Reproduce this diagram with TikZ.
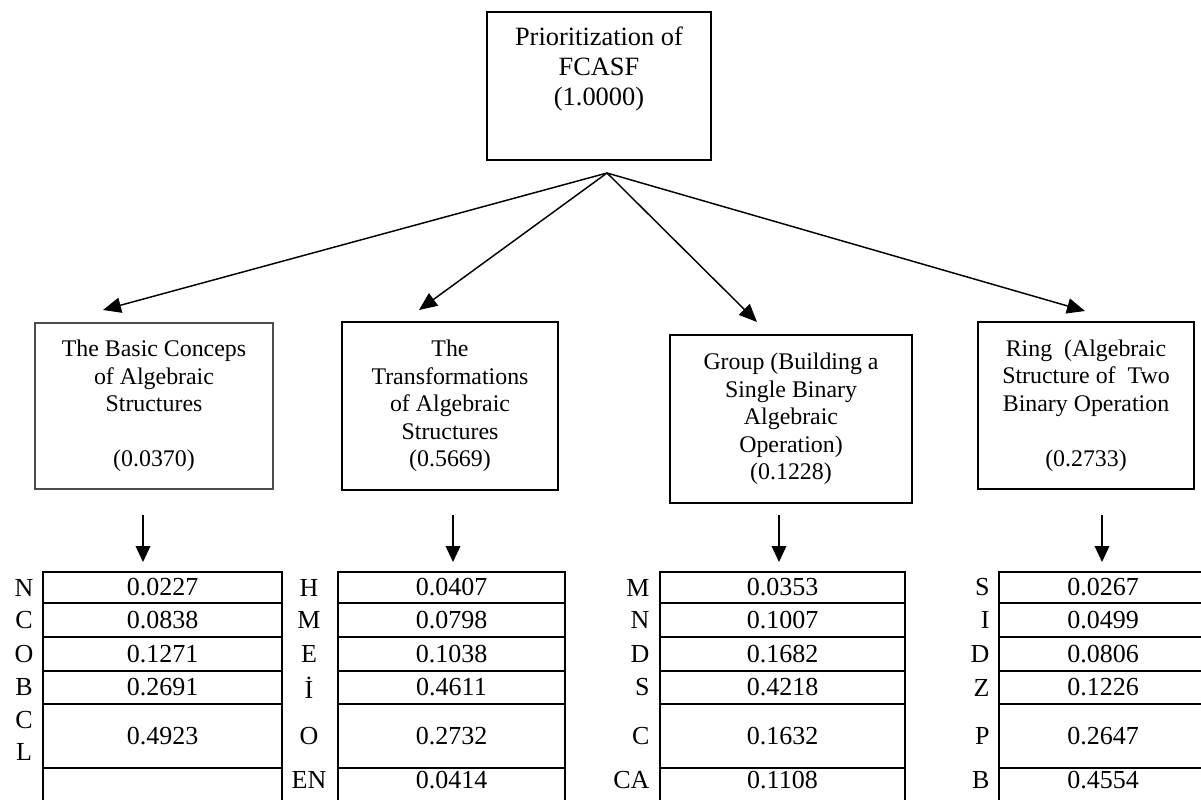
\documentclass[tikz,border=0pt]{standalone}
\usepackage{fontspec}
\setmainfont{Liberation Serif}
\usetikzlibrary{arrows.meta}

\tikzset{every picture/.style={line width=0.75pt}}
\tikzset{
  goalbox/.style={draw, line width=1.3pt, align=center, inner sep=0.75pt, font=\fontsize{19.8}{22.5}\selectfont},
  critbox/.style={draw, line width=1.8pt, align=center, inner sep=0.75pt, font=\fontsize{17.9}{20.6}\selectfont},
  cell/.style={draw, line width=1.9pt, inner sep=0.75pt, font=\fontsize{19.5}{22.4}\selectfont},
  lastcell/.style={cell, text depth=7.5pt},
  lbl/.style={inner sep=0.75pt, align=center, font=\fontsize{19.5}{22.4}\selectfont},
  arr/.style={-{Triangle[length=13.5pt,width=11.5pt]}, line width=1.1pt},
  downarr/.style={-{Triangle[length=12pt,width=11pt]}, line width=1.1pt},
}

\begin{document}
\begin{tikzpicture}[x=0.75pt,y=0.75pt,yscale=-1,xscale=1]
\useasboundingbox (0,0) rectangle (1201,799);

%Shape: Rectangle (goal)
\node [goalbox, minimum width=168pt, minimum height=111pt] (goal) at (599,86) {Prioritization of\\FCASF\\(1.0000)\\\strut};

%Shape: Rectangle (criteria)
\node [critbox, line width=0.9pt, draw=black!70, minimum width=178.5pt, minimum height=124.5pt] (basic) at (154,406) {The Basic Conceps\\of Algebraic\\Structures\\[20.6pt](0.0370)};
\node [critbox, minimum width=162pt, minimum height=126pt] (trans) at (450,406) {The\\Transformations\\of Algebraic\\Structures\\(0.5669)};
\node [critbox, minimum width=181.5pt, minimum height=126pt] (group) at (791,419) {Group (Building a\\Single Binary\\Algebraic\\Operation)\\(0.1228)};
\node [critbox, minimum width=162pt, minimum height=125.25pt] (ring) at (1086,405.5) {Ring~ (Algebraic\\Structure of~ Two\\Binary Operation\\[20.6pt](0.2733)};

%Arrows from goal
\coordinate (apex) at (607,173);
\coordinate (basictip) at (103,310);
\coordinate (transtip) at (419,310);
\coordinate (grouptip) at (757,322);
\coordinate (ringtip) at (1085,311);
\draw [arr] (apex) -- (basictip);
\draw [arr] (apex) -- (transtip);
\draw [arr] (apex) -- (grouptip);
\draw [arr] (apex) -- (ringtip);

%Down arrows
\coordinate (basicfrom) at (143,515);
\coordinate (basicto) at (143,562);
\coordinate (transfrom) at (453,515);
\coordinate (transto) at (453,562);
\coordinate (groupfrom) at (779,515);
\coordinate (groupto) at (779,562);
\coordinate (ringfrom) at (1102,515);
\coordinate (ringto) at (1102,562);
\draw [downarr] (basicfrom) -- (basicto);
\draw [downarr] (transfrom) -- (transto);
\draw [downarr] (groupfrom) -- (groupto);
\draw [downarr] (ringfrom) -- (ringto);

%Table: basic concepts
\node [cell, minimum width=179.25pt, minimum height=23.25pt] (ba1) at (162.5,587.5) {0.0227};
\node [cell, minimum width=179.25pt, minimum height=25.5pt] (ba2) at (162.5,620) {0.0838};
\node [cell, minimum width=179.25pt, minimum height=25.5pt] (ba3) at (162.5,654) {0.1271};
\node [cell, minimum width=179.25pt, minimum height=24.75pt] (ba4) at (162.5,687.5) {0.2691};
\node [cell, minimum width=179.25pt, minimum height=48pt] (ba5) at (162.5,736) {0.4923};
\node [lastcell, minimum width=179.25pt, minimum height=25.5pt] (ba6) at (162.5,785) {};
% Text Node
\node [lbl] (bal1) at (24,587.5) {N};
\node [lbl] (bal2) at (24,620) {C};
\node [lbl] (bal3) at (24,654) {O};
\node [lbl] (bal4) at (24,687.5) {B};
\node [lbl] (bal5) at (24,736) {C\\[1.5pt]L};

%Table: transformations
\node [cell, minimum width=170.25pt, minimum height=23.25pt] (tr1) at (451.5,587.5) {0.0407};
\node [cell, minimum width=170.25pt, minimum height=25.5pt] (tr2) at (451.5,620) {0.0798};
\node [cell, minimum width=170.25pt, minimum height=25.5pt] (tr3) at (451.5,654) {0.1038};
\node [cell, minimum width=170.25pt, minimum height=24.75pt] (tr4) at (451.5,687.5) {0.4611};
\node [cell, minimum width=170.25pt, minimum height=48pt] (tr5) at (451.5,736) {0.2732};
\node [lastcell, minimum width=170.25pt, minimum height=25.5pt] (tr6) at (451.5,785) {0.0414};
% Text Node
\node [lbl] (trl1) at (309,587.5) {H};
\node [lbl] (trl2) at (309,620) {M};
\node [lbl] (trl3) at (309,654) {E};
\node [lbl] (trl4) at (309,687.5) {İ};
\node [lbl] (trl5) at (309,736) {O};
\node [lbl] (trl6) at (309,780) {EN};

%Table: group
\node [cell, minimum width=183.75pt, minimum height=23.25pt] (gr1) at (782.5,587.5) {0.0353};
\node [cell, minimum width=183.75pt, minimum height=25.5pt] (gr2) at (782.5,620) {0.1007};
\node [cell, minimum width=183.75pt, minimum height=25.5pt] (gr3) at (782.5,654) {0.1682};
\node [cell, minimum width=183.75pt, minimum height=24.75pt] (gr4) at (782.5,687.5) {0.4218};
\node [cell, minimum width=183.75pt, minimum height=48pt] (gr5) at (782.5,736) {0.1632};
\node [lastcell, minimum width=183.75pt, minimum height=25.5pt] (gr6) at (782.5,785) {0.1108};
% Text Node
\node [lbl, anchor=east] (grl1) at (651,587.5) {M};
\node [lbl, anchor=east] (grl2) at (651,620) {N};
\node [lbl, anchor=east] (grl3) at (651,654) {D};
\node [lbl, anchor=east] (grl4) at (651,687.5) {S};
\node [lbl, anchor=east] (grl5) at (651,736) {C};
\node [lbl, anchor=east] (grl6) at (651,780) {CA};

%Table: ring
\node [cell, minimum width=156pt, minimum height=23.25pt] (ri1) at (1103,587.5) {0.0267};
\node [cell, minimum width=156pt, minimum height=25.5pt] (ri2) at (1103,620) {0.0499};
\node [cell, minimum width=156pt, minimum height=25.5pt] (ri3) at (1103,654) {0.0806};
\node [cell, minimum width=156pt, minimum height=24.75pt] (ri4) at (1103,687.5) {0.1226};
\node [cell, minimum width=156pt, minimum height=48pt] (ri5) at (1103,736) {0.2647};
\node [lastcell, minimum width=156pt, minimum height=25.5pt] (ri6) at (1103,785) {0.4554};
% Text Node
\node [lbl, anchor=east] (ril1) at (991,587.5) {S};
\node [lbl, anchor=east] (ril2) at (991,620) {I};
\node [lbl, anchor=east] (ril3) at (991,654) {D};
\node [lbl, anchor=east] (ril4) at (991,687.5) {Z};
\node [lbl, anchor=east] (ril5) at (991,736) {P};
\node [lbl, anchor=east] (ril6) at (991,780) {B};
\end{tikzpicture}
\end{document}
